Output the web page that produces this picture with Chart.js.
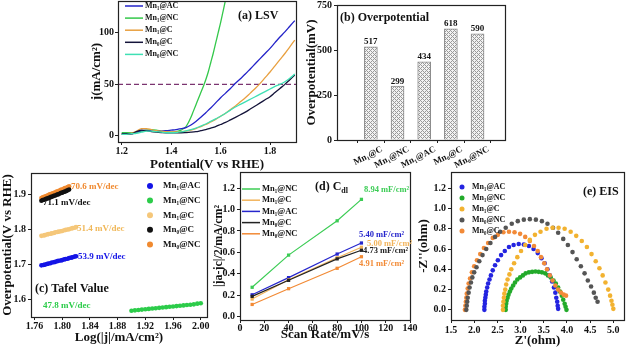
<!DOCTYPE html>
<html><head><meta charset="utf-8">
<script src="https://cdn.jsdelivr.net/npm/chart.js@4.4.0/dist/chart.umd.min.js"></script>
<style>
html,body{margin:0;padding:0;background:#fff;width:628px;height:349px;overflow:hidden}
canvas{position:absolute;left:0;top:0}
</style></head><body>
<canvas id="ca" width="628" height="349"></canvas>
<canvas id="cb" width="628" height="349"></canvas>
<canvas id="cc" width="628" height="349"></canvas>
<canvas id="cd" width="628" height="349"></canvas>
<canvas id="ce" width="628" height="349"></canvas>
<script>
// ---------- DATA ----------
// (a) LSV
const lsvV = [1.20,1.22,1.24,1.26,1.28,1.30,1.32,1.34,1.36,1.38,1.40,1.42,1.44,1.46,1.48,1.50,1.52,1.54,1.56,1.58,1.60,1.62,1.64,1.66,1.68,1.70,1.72,1.74,1.76,1.78,1.80,1.82,1.84,1.86,1.88,1.90];
const lsvMn1AC = [1.5,1.5,1.8,3.5,5.0,5.2,4.8,4.5,4.6,5.0,5.5,6.0,7.0,8.0,10.5,14,18,22.5,27,32,37,41.5,46,51,55.5,60,65,70,75,80,85,90.5,96,101,106.5,112];
const lsvMn1C  = [2,2,2.5,4.5,7,7,6,5,4.5,4,3.8,3.8,4,4.5,5.5,7,9,11,13.5,16,19,22,25.5,29,33,37,41.5,46,51,56.5,62,68,74,80,86.5,93];
const lsvMn0C  = [2,2,2,4,5.5,5,4,3.5,3.2,3,3,3,3,3.2,3.5,4,5,6,7.5,9,11,13,15.5,18,20.5,23,26,29,32,35,38,42,46,50,54.5,59];
const lsvMn0NC = [1.5,1.5,2,2.5,3.5,4.5,4.5,4,3.5,3,3,3.2,3.8,4.8,6,7.5,9.5,11.5,14,16.5,19,22,25,28,30.5,33,35.5,38,40.5,43,45.5,48,50,52.5,56,60];
const lsvNcV   = [1.20,1.22,1.24,1.26,1.28,1.30,1.32,1.34,1.36,1.38,1.40,1.42,1.44,1.46,1.47,1.48,1.49,1.50,1.51,1.52,1.53,1.54,1.55,1.56,1.57,1.58,1.59,1.60,1.61,1.62,1.63];
const lsvMn1NC = [3,3,3,3.5,4.5,5.5,6,5.5,4.5,3.8,3.5,4,5.5,9,13,18,24,30,36,42,48,54.5,62,71,80,90,100,110,121,132,143];
const lsvRef = 50;
// (b) Overpotential
const overLabels = ['Mn₁@C','Mn₁@NC','Mn₁@AC','Mn₀@C','Mn₀@NC'];
const overValues = [517,299,434,618,590];
// (c) Tafel
const tafAC_x = [1.770,1.773,1.775,1.778,1.780,1.783,1.785,1.788,1.790,1.793,1.795,1.798,1.800,1.803,1.805,1.808,1.810,1.813,1.815,1.818,1.820];
const tafAC_y = [1.697,1.698,1.699,1.701,1.702,1.703,1.705,1.706,1.707,1.709,1.710,1.711,1.712,1.714,1.715,1.716,1.718,1.719,1.720,1.722,1.723];
const tafNC_x = [1.900,1.905,1.910,1.915,1.920,1.925,1.930,1.935,1.940,1.945,1.950,1.955,1.960,1.965,1.970,1.975,1.980,1.985,1.990,1.995,2.000];
const tafNC_y = [1.568,1.569,1.570,1.571,1.572,1.573,1.574,1.575,1.576,1.577,1.578,1.579,1.580,1.581,1.582,1.583,1.584,1.585,1.586,1.588,1.589];
const tafC_x  = [1.770,1.773,1.775,1.778,1.780,1.783,1.785,1.788,1.790,1.793,1.795,1.798,1.800,1.803,1.805,1.808,1.810,1.813,1.815,1.818,1.820];
const tafC_y  = [1.781,1.782,1.783,1.785,1.786,1.787,1.788,1.789,1.791,1.792,1.793,1.794,1.795,1.797,1.798,1.799,1.800,1.802,1.803,1.804,1.806];
const taf0C_x = [1.770,1.772,1.774,1.776,1.778,1.780,1.782,1.784,1.786,1.788,1.790,1.792,1.794,1.796,1.798,1.800,1.802,1.804,1.806,1.808,1.810];
const taf0C_y = [1.881,1.883,1.884,1.886,1.887,1.889,1.890,1.892,1.893,1.895,1.896,1.898,1.899,1.901,1.903,1.904,1.906,1.907,1.909,1.911,1.913];
const taf0NC_x= [1.770,1.772,1.774,1.776,1.778,1.780,1.782,1.784,1.786,1.788,1.790,1.792,1.794,1.796,1.798,1.800,1.802,1.804,1.806,1.808,1.810];
const taf0NC_y= [1.889,1.891,1.892,1.894,1.895,1.897,1.899,1.900,1.902,1.903,1.905,1.907,1.908,1.910,1.912,1.913,1.915,1.917,1.918,1.920,1.922];
const tafelLabels = ['70.6 mV/dec','71.1 mV/dec','51.4 mV/dec','53.9 mV/dec','47.8 mV/dec'];
// (d) Cdl
const cdlRate  = [10,40,80,100];
const cdlMn1NC = [0.275,0.575,0.895,1.095];
const cdlMn1C  = [0.165,0.345,0.550,0.648];
const cdlMn1AC = [0.205,0.365,0.585,0.688];
const cdlMn0C  = [0.190,0.340,0.540,0.620];
const cdlMn0NC = [0.115,0.262,0.452,0.560];
const cdlLabels = ['8.94 mF/cm²','5.40 mF/cm²','5.00 mF/cm²','4.73 mF/cm²','4.91 mF/cm²'];
// (e) EIS
const eisAC_x = [2.22,2.22,2.23,2.23,2.24,2.25,2.26,2.28,2.30,2.33,2.36,2.40,2.45,2.51,2.58,2.66,2.75,2.85,2.96,3.07,3.18,3.28,3.37,3.45,3.52,3.58,3.63,3.68,3.72,3.75,3.77,3.79,3.80,3.81];
const eisAC_y = [0.00,0.03,0.06,0.09,0.12,0.15,0.18,0.22,0.26,0.30,0.34,0.39,0.44,0.49,0.54,0.58,0.62,0.64,0.65,0.645,0.63,0.60,0.56,0.51,0.46,0.40,0.34,0.28,0.22,0.17,0.12,0.08,0.04,0.01];
const eisNC_x = [2.68,2.68,2.69,2.70,2.72,2.74,2.77,2.80,2.84,2.88,2.93,2.99,3.05,3.11,3.18,3.25,3.32,3.39,3.46,3.53,3.59,3.65,3.71,3.76,3.81,3.85,3.89,3.92,3.95,3.97,3.99];
const eisNC_y = [0.00,0.03,0.06,0.09,0.12,0.15,0.18,0.21,0.24,0.27,0.30,0.32,0.34,0.36,0.37,0.375,0.378,0.375,0.37,0.36,0.34,0.32,0.29,0.26,0.22,0.18,0.14,0.10,0.06,0.03,0.00];
const eisC_x  = [2.62,2.62,2.63,2.64,2.65,2.67,2.69,2.72,2.76,2.80,2.86,2.93,3.01,3.10,3.20,3.31,3.43,3.56,3.69,3.82,3.95,4.08,4.20,4.32,4.43,4.53,4.62,4.70,4.77,4.83,4.89,4.93,4.96,4.98,5.00];
const eisC_y  = [0.00,0.04,0.08,0.12,0.16,0.20,0.25,0.30,0.35,0.40,0.46,0.52,0.58,0.64,0.69,0.74,0.77,0.80,0.81,0.81,0.80,0.77,0.73,0.68,0.62,0.55,0.48,0.41,0.34,0.27,0.20,0.14,0.09,0.05,0.01];
const eis0NC_x= [1.83,1.84,1.85,1.86,1.88,1.90,1.93,1.96,2.00,2.05,2.11,2.18,2.26,2.35,2.45,2.56,2.68,2.81,2.94,3.07,3.20,3.33,3.46,3.58,3.70,3.81,3.92,4.02,4.12,4.21,4.30,4.38,4.45,4.52,4.58,4.62,4.66];
const eis0NC_y= [0.00,0.04,0.08,0.12,0.17,0.22,0.27,0.32,0.37,0.42,0.48,0.54,0.60,0.66,0.72,0.77,0.81,0.85,0.875,0.89,0.895,0.89,0.875,0.85,0.81,0.76,0.70,0.64,0.57,0.50,0.43,0.36,0.29,0.23,0.17,0.12,0.08];
const eis0C_x = [1.80,1.81,1.82,1.83,1.84,1.86,1.88,1.91,1.95,2.00,2.06,2.13,2.21,2.30,2.40,2.51,2.63,2.75,2.87,2.99,3.10,3.20,3.29,3.37,3.44,3.51,3.57,3.63,3.69,3.75,3.81,3.87,3.93,3.98];
const eis0C_y = [0.00,0.04,0.08,0.12,0.16,0.21,0.26,0.31,0.37,0.43,0.49,0.55,0.61,0.66,0.71,0.74,0.765,0.77,0.765,0.75,0.72,0.68,0.63,0.58,0.52,0.46,0.40,0.34,0.29,0.24,0.20,0.17,0.15,0.14];

// ---------- HELPERS ----------
const SERIF = "'Liberation Serif','Times New Roman',Times,serif";
const W = 628, H = 349;
const fnt = s => ({family: SERIF, size: s, weight: 'bold'});
const pts = (xs, ys) => xs.map((x, i) => ({x, y: ys[i]}));
function lay(a, yW, xH){ return {left: a.l - yW, top: a.t, right: W - a.r, bottom: H - a.b - xH}; }
function axis(o){
  return {
    type: 'linear', position: o.pos, min: o.min, max: o.max,
    afterFit: s => { if (o.pos === 'left') s.width = o.size; else s.height = o.size;
      s.paddingLeft = 0; s.paddingRight = 0; s.paddingTop = 0; s.paddingBottom = 0; },
    grid: {display: true, drawOnChartArea: false, drawTicks: true, tickLength: 3, color: '#222', lineWidth: 1},
    border: {display: false},
    ticks: {stepSize: o.step, includeBounds: false, autoSkip: false,
      maxRotation: o.rot || 0, minRotation: o.rot || 0, color: '#111', font: fnt(o.ts || 10),
      padding: (o.pad === undefined ? 2 : o.pad), labelOffset: o.lo || 0, callback: o.fmt},
    title: {display: !!o.title, text: o.title, color: '#111', font: fnt(o.tts || 13), padding: 0}
  };
}
function txt(ctx, s, x, y, color, size, align){
  ctx.save(); ctx.font = 'bold ' + size + 'px ' + SERIF; ctx.fillStyle = color;
  ctx.textAlign = align || 'left'; ctx.textBaseline = 'middle'; ctx.fillText(s, x, y); ctx.restore();
}
function deco(cfg){
  return {
    id: 'deco',
    beforeDatasetsDraw(chart){ if (cfg.before) cfg.before(chart, chart.ctx); },
    afterDatasetsDraw(chart){
      const ctx = chart.ctx, a = chart.chartArea;
      ctx.save(); ctx.strokeStyle = '#222'; ctx.lineWidth = 1.2;
      ctx.strokeRect(Math.round(a.left) + 0.5, Math.round(a.top) + 0.5, Math.round(a.right - a.left), Math.round(a.bottom - a.top));
      ctx.restore();
      if (cfg.legend){
        const L = cfg.legend;
        L.items.forEach((it, i) => {
          const y = L.y0 + i * L.dy;
          ctx.save();
          if (L.kind === 'line'){
            ctx.strokeStyle = it.c; ctx.lineWidth = 1.5;
            ctx.beginPath(); ctx.moveTo(L.x0, y); ctx.lineTo(L.x1, y); ctx.stroke();
          } else {
            ctx.fillStyle = it.c; ctx.beginPath(); ctx.arc(L.x0, y, L.r || 2.5, 0, Math.PI * 2); ctx.fill();
          }
          ctx.restore();
          txt(ctx, it.t, L.tx, y, '#111', L.fs);
        });
      }
      if (cfg.after) cfg.after(chart, ctx);
    }
  };
}
function baseOpts(layout, scales){
  return {responsive: false, animation: false, devicePixelRatio: 1,
    layout: {padding: layout}, scales,
    plugins: {legend: {display: false}, tooltip: {enabled: false}}};
}

// ---------- (a) LSV ----------
const cA = {blue: '#2323c8', green: '#33c84a', orange: '#e8a040', dark: '#14143a', teal: '#3fe0b4'};
const areaA = {l: 118, r: 296, t: 1, b: 142};
new Chart(document.getElementById('ca'), {
  type: 'line',
  data: {datasets: [
    {data: pts(lsvV, lsvMn0NC), borderColor: cA.teal},
    {data: pts(lsvV, lsvMn0C), borderColor: cA.dark},
    {data: pts(lsvV, lsvMn1C), borderColor: cA.orange},
    {data: pts(lsvV, lsvMn1AC), borderColor: cA.blue},
    {data: pts(lsvNcV, lsvMn1NC), borderColor: cA.green}
  ].map(d => Object.assign(d, {borderWidth: 1.3, pointRadius: 0, cubicInterpolationMode: 'monotone', fill: false}))},
  options: baseOpts(lay(areaA, 29, 30), {
    x: axis({pos: 'bottom', min: 1.185, max: 1.905, step: 0.2, size: 30, pad: 0, fmt: v => v.toFixed(1), title: 'Potential(V vs RHE)'}),
    y: axis({pos: 'left', min: -6, max: 131, step: 50, size: 29, pad: 1, fmt: v => String(v), title: 'j(mA/cm²)'})
  }),
  plugins: [deco({
    before(chart, ctx){
      const a = chart.chartArea, y = chart.scales.y.getPixelForValue(lsvRef);
      ctx.save(); ctx.strokeStyle = '#7b3470'; ctx.lineWidth = 1.1; ctx.setLineDash([5, 3]);
      ctx.beginPath(); ctx.moveTo(a.left, y); ctx.lineTo(a.right, y); ctx.stroke(); ctx.restore();
    },
    legend: {kind: 'line', x0: 125, x1: 143, tx: 145, y0: 6, dy: 12.1, fs: 8,
      items: [{t: 'Mn₁@AC', c: cA.blue}, {t: 'Mn₁@NC', c: cA.green}, {t: 'Mn₁@C', c: cA.orange}, {t: 'Mn₀@C', c: cA.dark}, {t: 'Mn₀@NC', c: cA.teal}]},
    after(chart, ctx){ txt(ctx, '(a) LSV', 238, 16, '#111', 12); }
  })]
});

// ---------- (b) Overpotential ----------
const pat = (() => {
  const p = document.createElement('canvas'); p.width = 4; p.height = 4;
  const g = p.getContext('2d'); g.fillStyle = '#f2f2f2'; g.fillRect(0, 0, 4, 4);
  g.fillStyle = '#9a9a9a';
  for (let x = 0; x < 4; x++) for (let y = 0; y < 4; y++) if ((x + y) % 4 === 0 || ((x - y) + 4) % 4 === 0) g.fillRect(x, y, 1, 1);
  return document.getElementById('cb').getContext('2d').createPattern(p, 'repeat');
})();
const areaB = {l: 337, r: 505, t: 5, b: 140};
new Chart(document.getElementById('cb'), {
  type: 'bar',
  data: {datasets: [{data: overValues.map((v, i) => ({x: i + 1, y: v})), backgroundColor: pat,
    borderColor: '#8a8a8a', borderWidth: 1, barThickness: 13}]},
  options: baseOpts(lay(areaB, 33, 30), {
    x: axis({pos: 'bottom', min: 0.36, max: 5.4, step: 1, size: 30, pad: 1, rot: 27, ts: 9, lo: 11,
      fmt: v => (Number.isInteger(v) && v >= 1 && v <= 5) ? overLabels[v - 1] : ''}),
    y: axis({pos: 'left', min: 0, max: 750, step: 250, size: 33, pad: 2, fmt: v => String(v), title: 'Overpotential(mV)'})
  }),
  plugins: [deco({
    after(chart, ctx){
      chart.getDatasetMeta(0).data.forEach((b, i) => txt(ctx, String(overValues[i]), b.x, b.y - 5, '#111', 9, 'center'));
      txt(ctx, '(b) Overpotential', 340, 18, '#111', 12);
    }
  })]
});

// ---------- (c) Tafel ----------
const cC = {blue: '#1414e6', green: '#2ccc4a', lorange: '#f5c77a', black: '#111111', orange: '#f08a30'};
const areaC = {l: 31, r: 207, t: 173, b: 317};
new Chart(document.getElementById('cc'), {
  type: 'scatter',
  data: {datasets: [
    {data: pts(tafAC_x, tafAC_y), backgroundColor: cC.blue},
    {data: pts(tafNC_x, tafNC_y), backgroundColor: cC.green},
    {data: pts(tafC_x, tafC_y), backgroundColor: cC.lorange},
    {data: pts(taf0C_x, taf0C_y), backgroundColor: cC.black},
    {data: pts(taf0NC_x, taf0NC_y), backgroundColor: cC.orange}
  ].map(d => Object.assign(d, {pointRadius: 2.3, pointBorderWidth: 0}))},
  options: baseOpts(lay(areaC, 31, 28), {
    x: axis({pos: 'bottom', min: 1.755, max: 2.009, step: 0.04, size: 28, pad: 0, fmt: v => v.toFixed(2), title: 'Log(|j|/mA/cm²)'}),
    y: axis({pos: 'left', min: 1.55, max: 1.96, step: 0.1, size: 31, pad: 2, fmt: v => v.toFixed(1), title: 'Overpotential(V vs RHE)'})
  }),
  plugins: [deco({
    legend: {kind: 'point', x0: 150, tx: 163, y0: 186, dy: 14.6, fs: 9, r: 3,
      items: [{t: 'Mn₁@AC', c: cC.blue}, {t: 'Mn₁@NC', c: cC.green}, {t: 'Mn₁@C', c: cC.lorange}, {t: 'Mn₀@C', c: cC.black}, {t: 'Mn₀@NC', c: cC.orange}]},
    after(chart, ctx){
      txt(ctx, tafelLabels[0], 71, 187, cC.orange, 9);
      txt(ctx, tafelLabels[1], 43, 203, cC.black, 9);
      txt(ctx, tafelLabels[2], 77, 229, '#f0b85a', 9);
      txt(ctx, tafelLabels[3], 78, 257, cC.blue, 9);
      txt(ctx, tafelLabels[4], 43, 306, cC.green, 9);
      txt(ctx, '(c) Tafel Value', 35, 289, '#111', 12);
    }
  })]
});

// ---------- (d) Cdl ----------
const cD = {green: '#3ccc55', lorange: '#f2b45c', blue: '#2626cc', black: '#222222', orange: '#f28a35'};
const areaD = {l: 240, r: 410, t: 172, b: 320};
new Chart(document.getElementById('cd'), {
  type: 'line',
  data: {datasets: [
    {data: pts(cdlRate, cdlMn0NC), borderColor: cD.orange},
    {data: pts(cdlRate, cdlMn0C), borderColor: cD.black},
    {data: pts(cdlRate, cdlMn1C), borderColor: cD.lorange},
    {data: pts(cdlRate, cdlMn1AC), borderColor: cD.blue},
    {data: pts(cdlRate, cdlMn1NC), borderColor: cD.green}
  ].map(d => Object.assign(d, {borderWidth: 1.2, pointStyle: 'rect', pointRadius: 2.3, pointBackgroundColor: d.borderColor, pointBorderWidth: 0, fill: false}))},
  options: baseOpts(lay(areaD, 28, 22), {
    x: axis({pos: 'bottom', min: 0, max: 140, step: 20, size: 22, pad: -1, fmt: v => String(v), title: 'Scan Rate/mV/s'}),
    y: axis({pos: 'left', min: -0.03, max: 1.35, step: 0.2, size: 28, pad: 2, fmt: v => v.toFixed(1), title: '|ja-jc|/2/mA/cm²', tts: 12})
  }),
  plugins: [deco({
    legend: {kind: 'line', x0: 242, x1: 260, tx: 262, y0: 189, dy: 11.2, fs: 8.5,
      items: [{t: 'Mn₁@NC', c: cD.green}, {t: 'Mn₁@C', c: cD.lorange}, {t: 'Mn₁@AC', c: cD.blue}, {t: 'Mn₀@C', c: cD.black}, {t: 'Mn₀@NC', c: cD.orange}]},
    after(chart, ctx){
      txt(ctx, cdlLabels[0], 364, 190, cD.green, 8.5);
      txt(ctx, cdlLabels[1], 359, 235, cD.blue, 8.5);
      txt(ctx, cdlLabels[2], 367, 244, cD.lorange, 8.5);
      txt(ctx, cdlLabels[3], 363, 251, cD.black, 8.5);
      txt(ctx, cdlLabels[4], 359, 264, cD.orange, 8.5);
      ctx.save(); ctx.font = 'bold 12px ' + SERIF; const w = ctx.measureText('(d) C').width; ctx.restore();
      txt(ctx, '(d) C', 315, 187, '#111', 12);
      txt(ctx, 'dl', 315 + w, 191, '#111', 8);
    }
  })]
});

// ---------- (e) EIS ----------
const cE = {blue: '#2424e0', green: '#22aa2a', yellow: '#f2b230', gray: '#555555', orange: '#f28a38'};
const areaE = {l: 451, r: 625, t: 172, b: 320};
new Chart(document.getElementById('ce'), {
  type: 'scatter',
  data: {datasets: [
    {data: pts(eisC_x, eisC_y), backgroundColor: cE.yellow},
    {data: pts(eis0NC_x, eis0NC_y), backgroundColor: cE.gray},
    {data: pts(eis0C_x, eis0C_y), backgroundColor: cE.orange},
    {data: pts(eisAC_x, eisAC_y), backgroundColor: cE.blue},
    {data: pts(eisNC_x, eisNC_y), backgroundColor: cE.green}
  ].map(d => Object.assign(d, {pointRadius: 2.3, pointBorderWidth: 0}))},
  options: baseOpts(lay(areaE, 35, 28), {
    x: axis({pos: 'bottom', min: 1.5, max: 5.23, step: 0.5, size: 28, pad: 1, fmt: v => v.toFixed(1), title: "Z'(ohm)"}),
    y: axis({pos: 'left', min: -0.1, max: 1.36, step: 0.2, size: 35, pad: 2, fmt: v => v.toFixed(1), title: "-Z''(ohm)"})
  }),
  plugins: [deco({
    legend: {kind: 'point', x0: 462, tx: 472, y0: 187, dy: 11, fs: 8, r: 2.5,
      items: [{t: 'Mn₁@AC', c: cE.blue}, {t: 'Mn₁@NC', c: cE.green}, {t: 'Mn₁@C', c: cE.yellow}, {t: 'Mn₀@NC', c: cE.gray}, {t: 'Mn₀@C', c: cE.orange}]},
    after(chart, ctx){ txt(ctx, '(e) EIS', 583, 192, '#111', 12); }
  })]
});
</script>
</body></html>
